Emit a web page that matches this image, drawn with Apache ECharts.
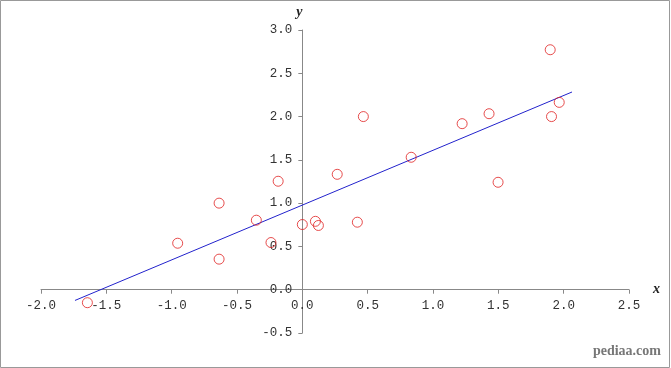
<!DOCTYPE html>
<html>
<head>
<meta charset="utf-8">
<script src="https://cdn.jsdelivr.net/npm/echarts@6/dist/echarts.min.js"></script>
<style>
html,body{margin:0;padding:0;background:#fff;}
#chart{width:671px;height:368px;}
</style>
</head>
<body>
<div id="chart"></div>
<script>
// Data
var pointsX = [-1.645, -0.954, -0.637, -0.637, -0.352, -0.240, -0.185, 0.0, 0.100, 0.123, 0.267, 0.421, 0.467, 0.833, 1.223, 1.429, 1.498, 1.897, 1.907, 1.966];
var pointsY = [-0.15, 0.537, 1.0, 0.353, 0.803, 0.545, 1.253, 0.753, 0.79, 0.742, 1.333, 0.78, 2.0, 1.53, 1.918, 2.033, 1.241, 2.772, 2.0, 2.164];
var lineX = [-1.74, 2.064];
var lineY = [-0.124, 2.284];
var xTicks = {min: -2.0, max: 2.5, interval: 0.5};
var yTicks = {min: -0.5, max: 3.0, interval: 0.5};

var scatterData = pointsX.map(function (x, i) { return [x, pointsY[i]]; });
var lineData = lineX.map(function (x, i) { return [x, lineY[i]]; });

var gridL = 41, gridR = 42, gridT = 30, gridB = 35;
var W = 671, H = 368;
var plotW = W - gridL - gridR, plotH = H - gridT - gridB;
// shift the axes so they cross at the origin, like the reference
var yAxisShift = -plotW * (0 - xTicks.min) / (xTicks.max - xTicks.min);
var xAxisShift = -plotH * (0 - yTicks.min) / (yTicks.max - yTicks.min);

var chart = echarts.init(document.getElementById('chart'));
var labelStyle = {fontFamily: 'Liberation Mono', fontSize: 12.5, color: '#333'};
chart.setOption({
  animation: false,
  grid: {left: gridL, right: gridR, top: gridT, bottom: gridB},
  xAxis: {
    type: 'value', min: xTicks.min, max: xTicks.max, interval: xTicks.interval,
    position: 'bottom', offset: xAxisShift,
    name: 'x', nameLocation: 'end', nameGap: 24,
    nameTextStyle: {fontFamily: 'Liberation Serif', fontStyle: 'italic', fontWeight: 'bold', fontSize: 14, color: '#222', padding: [22, 0, 0, 0]},
    axisLine: {onZero: false, lineStyle: {color: '#888', width: 1}},
    axisTick: {show: true, length: 4, lineStyle: {color: '#888'}},
    axisLabel: Object.assign({margin: 9, formatter: function (v) { return v.toFixed(1); }}, labelStyle),
    splitLine: {show: false}
  },
  yAxis: {
    type: 'value', min: yTicks.min, max: yTicks.max, interval: yTicks.interval,
    position: 'left', offset: yAxisShift,
    name: 'y', nameLocation: 'end', nameGap: 11,
    nameTextStyle: {fontFamily: 'Liberation Serif', fontStyle: 'italic', fontWeight: 'bold', fontSize: 14, color: '#222', padding: [0, 6, 0, 0]},
    axisLine: {onZero: false, lineStyle: {color: '#888', width: 1}},
    axisTick: {show: true, length: 4, lineStyle: {color: '#888'}},
    axisLabel: Object.assign({margin: 10, formatter: function (v) { return v.toFixed(1); }}, labelStyle),
    splitLine: {show: false}
  },
  graphic: [
    {type: 'rect', shape: {x: 0.5, y: 0.5, width: 669, height: 367}, style: {fill: 'none', stroke: '#999', lineWidth: 1}, silent: true, z: -1},
    {type: 'text', right: 10, top: 344, style: {text: 'pediaa.com', font: 'bold 14px "Liberation Serif"', fill: '#777'}}
  ],
  series: [
    {
      type: 'line', data: lineData, showSymbol: false, symbol: 'none',
      lineStyle: {color: '#2222cc', width: 1}, z: 2
    },
    {
      type: 'scatter', data: scatterData, symbol: 'circle', symbolSize: 10,
      itemStyle: {color: 'rgba(255,255,255,0)', borderColor: '#e02020', borderWidth: 1}, z: 3
    }
  ]
});
</script>
</body>
</html>
